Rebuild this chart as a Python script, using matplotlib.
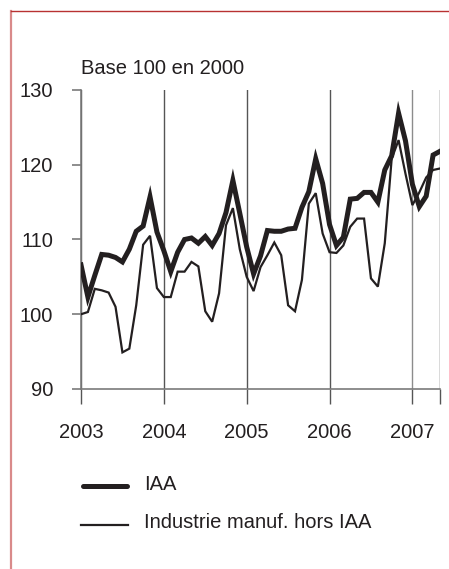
import numpy as np
import matplotlib.pyplot as plt
from matplotlib.lines import Line2D

plt.rcParams["font.family"] = ["Liberation Sans", "DejaVu Sans"]

# monthly index, base 100 in 2000, Jan 2003 -> May 2007
start_year = 2003
iaa = [
    106.6, 102.3, 105.2, 108.0, 107.9, 107.6, 107.0, 108.7, 111.1, 111.8, 115.7, 111.0,
    108.5, 105.7, 108.3, 110.0, 110.2, 109.5, 110.4, 109.2, 110.8, 113.6, 117.9, 113.5,
    109.0, 105.4, 107.8, 111.2, 111.1, 111.1, 111.4, 111.5, 114.3, 116.4, 120.8, 117.5,
    112.0, 109.2, 110.3, 115.4, 115.5, 116.3, 116.3, 115.0, 119.3, 121.2, 126.9, 123.2,
    117.4, 114.4, 115.8, 121.3, 121.8,
]
manuf = [
    100.0, 100.3, 103.4, 103.2, 102.9, 101.0, 94.9, 95.4, 101.2, 109.3, 110.5, 103.5,
    102.3, 102.3, 105.7, 105.7, 107.0, 106.4, 100.4, 99.0, 102.8, 111.9, 114.2, 108.7,
    105.0, 103.1, 106.3, 107.9, 109.6, 107.9, 101.2, 100.4, 104.6, 114.8, 116.2, 110.8,
    108.3, 108.2, 109.2, 111.7, 112.8, 112.8, 104.8, 103.7, 109.5, 120.8, 123.3, 118.8,
    114.6, 116.3, 118.3, 119.3, 119.5,
]
years = [2003, 2004, 2005, 2006, 2007]
yticks = [90, 100, 110, 120, 130]

x = start_year + np.arange(len(iaa)) / 12.0
x_end = x[-1]

W, H = 449, 569
fig = plt.figure(figsize=(W / 100, H / 100), dpi=100)
ax = fig.add_axes([81 / W, 1 - 389 / H, 359 / W, 299 / H])

ink = "#231f20"
grey = "#7a7a7a"

# vertical year lines, plus one closing the plot on the right
for yr in years:
    ax.axvline(yr, color="#555555" if yr < 2007 else "#8c8c8c", lw=1.0, zorder=1)
ax.axvline(x_end, color="#444444", lw=1.0, zorder=1)

ax.plot(x, manuf, color=ink, lw=1.6, solid_joinstyle="miter", zorder=3)
ax.plot(x, iaa, color=ink, lw=3.6, solid_joinstyle="miter", zorder=4)

ax.set_xlim(start_year, x_end)
ax.set_ylim(90, 130)

for side in ["top", "right"]:
    ax.spines[side].set_visible(False)
ax.spines["left"].set_color(grey)
ax.spines["bottom"].set_color(grey)
ax.spines["left"].set_linewidth(1.2)
ax.spines["bottom"].set_linewidth(1.2)

ax.set_yticks(yticks)
ax.set_xticks(years + [x_end])
ax.set_xticklabels([str(y) for y in years] + [""])
ax.tick_params(axis="y", direction="out", length=6.5, width=1.2, color=grey,
               pad=13.5, labelsize=14.5, labelcolor=ink)
ax.tick_params(axis="x", direction="out", length=11, width=1.0, color="#555555",
               pad=13.5, labelsize=14.5, labelcolor=ink)

fig.text(81 / W, 1 - 68 / H, "Base 100 en 2000", fontsize=14.5, color=ink,
         ha="left", va="center")

# legend
fig.add_artist(Line2D([83 / W, 127 / W], [1 - 486 / H, 1 - 486 / H], color=ink,
                      lw=3.6, solid_capstyle="round"))
fig.add_artist(Line2D([81 / W, 128 / W], [1 - 525 / H, 1 - 525 / H], color=ink,
                      lw=1.6))
fig.text(144 / W, 1 - 484 / H, "IAA", fontsize=14.5, color=ink, ha="left", va="center")
fig.text(144 / W, 1 - 522 / H, "Industrie manuf. hors IAA", fontsize=14.5, color=ink,
         ha="left", va="center")

# frame of the original page
fig.add_artist(Line2D([11 / W, 11 / W], [0, 1 - 11 / H], color="#d98a8a", lw=1.6))
fig.add_artist(Line2D([11 / W, 1], [1 - 11 / H, 1 - 11 / H], color="#b83232", lw=1.0))

fig.savefig("out.png", dpi=100)
